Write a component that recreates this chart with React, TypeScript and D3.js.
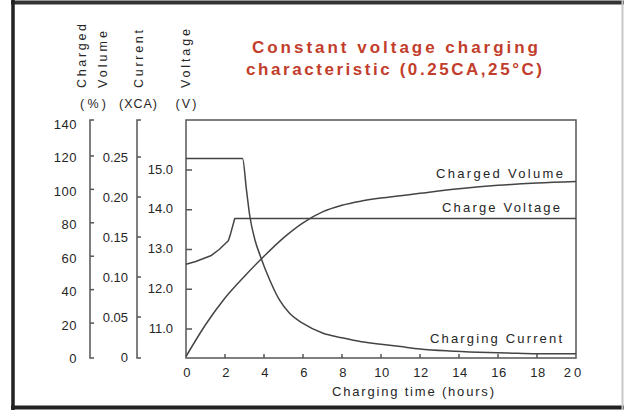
import { useEffect, useRef } from "react";
import * as d3 from "d3";

// --- axis ticks
const hourTicks = [0, 2, 4, 6, 8, 10, 12, 14, 16, 18, 20];
const volumeTicks = [0, 20, 40, 60, 80, 100, 120, 140];
const currentTicks = [0, 0.05, 0.1, 0.15, 0.2, 0.25];
const currentLabels = ["0", "0.05", "0.10", "0.15", "0.20", "0.25"];
const voltTicks = [11, 12, 13, 14, 15];
const voltLabels = ["11.0", "12.0", "13.0", "14.0", "15.0"];

// --- series
const voltageTime = [0, 0.5, 1.3, 1.7, 2.17, 2.26, 2.5, 20];
const voltageVals = [12.63, 12.7, 12.85, 13.0, 13.22, 13.35, 13.78, 13.78];

const currentTime = [0, 2.9, 3.1, 3.28, 3.54, 3.8, 4.3, 4.8, 5.3, 6, 7, 8, 9, 10, 11, 12, 13.5, 15, 16.5, 18, 20];
const currentVals = [0.248, 0.248, 0.209, 0.175, 0.146, 0.127, 0.096, 0.071, 0.055, 0.042, 0.03, 0.024, 0.019, 0.016, 0.013, 0.01, 0.0075, 0.006, 0.005, 0.004, 0.004];

const volumeTime = [0, 1, 2, 3, 4, 5, 6, 7, 8, 9, 10, 11, 12, 14, 16, 18, 20];
const volumeVals = [0, 19, 35, 48, 60, 71, 80, 86.5, 90.5, 93, 94.8, 96.2, 97.6, 100.3, 102.4, 103.8, 104.7];

export default function App() {
  const ref = useRef<SVGSVGElement>(null);

  useEffect(() => {
    const svg = d3.select(ref.current);
    svg.selectAll("*").remove();

    const font = "'Liberation Sans', Arial, sans-serif";
    const ink = "#262626";
    const lineCol = "#444";

    const x = d3.scaleLinear().domain([0, 20]).range([186, 576]);
    const yVol = d3.scaleLinear().domain([0, 140]).range([356.5, 122.5]);
    const yCur = d3.scaleLinear().domain([0, 0.25]).range([357, 157]);
    const yV = d3.scaleLinear().domain([11, 15]).range([329, 170]);
    const top = 120;
    const bottom = 358;

    svg.append("rect").attr("width", 624).attr("height", 410).attr("fill", "#fff");

    // --- outer frame
    svg.append("line").attr("x1", 11).attr("x2", 624).attr("y1", 2.5).attr("y2", 2.5)
      .attr("stroke", "#333").attr("stroke-width", 4);
    svg.append("line").attr("x1", 13).attr("x2", 13).attr("y1", 0).attr("y2", 410)
      .attr("stroke", "#222").attr("stroke-width", 3.5);
    svg.append("line").attr("x1", 11).attr("x2", 624).attr("y1", 407.5).attr("y2", 407.5)
      .attr("stroke", "#222").attr("stroke-width", 4);
    svg.append("line").attr("x1", 622.5).attr("x2", 622.5).attr("y1", 0).attr("y2", 410)
      .attr("stroke", "#c8c8c8").attr("stroke-width", 2);

    // --- title
    const title = svg.append("g").attr("font-family", font).attr("font-weight", "bold")
      .attr("font-size", 17).attr("fill", "#c23d2b").attr("text-anchor", "middle");
    title.append("text").attr("x", 395).attr("y", 53).attr("textLength", 286)
      .attr("lengthAdjust", "spacing").text("Constant voltage charging");
    title.append("text").attr("x", 394).attr("y", 75).attr("textLength", 296)
      .attr("lengthAdjust", "spacing").text("characteristic (0.25CA,25°C)");

    // --- axis headers (rotated)
    const head = svg.append("g").attr("font-family", font).attr("font-size", 12.5).attr("fill", ink);
    const vhead = (bx: number, len: number, s: string) =>
      head.append("text").attr("transform", `translate(${bx},88) rotate(-90)`)
        .attr("textLength", len).attr("lengthAdjust", "spacing").text(s);
    vhead(86, 64, "Charged");
    vhead(107, 57, "Volume");
    vhead(143, 58, "Current");
    vhead(190, 59, "Voltage");
    const units = [["(%)", 93, 26], ["(XCA)", 138, 38], ["(V)", 186, 21]] as const;
    units.forEach(([s, cx, len]) =>
      head.append("text").attr("x", cx).attr("y", 108).attr("text-anchor", "middle")
        .attr("textLength", len).attr("lengthAdjust", "spacing").text(s));

    // --- plot frame
    svg.append("rect").attr("x", x(0)).attr("y", top).attr("width", x(20) - x(0))
      .attr("height", bottom - top).attr("fill", "none").attr("stroke", "#555").attr("stroke-width", 1.5);

    const axes = svg.append("g").attr("stroke", "#555").attr("stroke-width", 1.5).attr("fill", "none");
    const labels = svg.append("g").attr("font-family", font).attr("font-size", 13).attr("fill", ink);

    // charged volume axis (bracket)
    axes.append("path").attr("d", `M94,${top}H90V${bottom}H94`);
    volumeTicks.slice(1, -1).forEach(v =>
      axes.append("line").attr("x1", 90).attr("x2", 94).attr("y1", yVol(v)).attr("y2", yVol(v)));
    volumeTicks.forEach(v =>
      labels.append("text").attr("x", 77).attr("y", yVol(v) + 2).attr("dy", "0.35em")
        .attr("text-anchor", "end").attr("letter-spacing", 0.5).text(v));

    // current axis (bracket)
    axes.append("path").attr("d", `M141,${top}H137V${bottom}H141`);
    currentTicks.slice(1).forEach(v =>
      axes.append("line").attr("x1", 137).attr("x2", 141).attr("y1", yCur(v)).attr("y2", yCur(v)));
    currentTicks.forEach((v, i) =>
      labels.append("text").attr("x", 128).attr("y", yCur(v)).attr("dy", "0.35em")
        .attr("text-anchor", "end").text(currentLabels[i]));

    // voltage axis (ticks inside plot)
    voltTicks.forEach((v, i) => {
      axes.append("line").attr("x1", x(0)).attr("x2", x(0) + 6).attr("y1", yV(v)).attr("y2", yV(v));
      labels.append("text").attr("x", 173).attr("y", yV(v) - 1).attr("dy", "0.35em")
        .attr("text-anchor", "end").text(voltLabels[i]);
    });

    // x axis
    hourTicks.slice(1, -1).forEach(h =>
      axes.append("line").attr("x1", x(h)).attr("x2", x(h)).attr("y1", bottom).attr("y2", bottom - 4));
    hourTicks.forEach(h =>
      labels.append("text").attr("x", x(h) + (h === 20 ? -2 : 1)).attr("y", 377).attr("text-anchor", "middle")
        .attr("letter-spacing", h === 20 ? 3 : 0.5).text(h));
    labels.append("text").attr("x", 413).attr("y", 396).attr("text-anchor", "middle")
      .attr("textLength", 162).attr("lengthAdjust", "spacing").text("Charging time (hours)");

    // --- curves
    const curves = svg.append("g").attr("fill", "none").attr("stroke", lineCol).attr("stroke-width", 1.5)
      .attr("stroke-linejoin", "round");
    const path = (ts: number[], vs: number[], y: d3.ScaleLinear<number, number>, curve: d3.CurveFactory) =>
      curves.append("path").attr("d",
        d3.line<number>().x((_, i) => x(ts[i])).y(v => y(v)).curve(curve)(vs));
    path(voltageTime, voltageVals, yV, d3.curveLinear);
    path(currentTime, currentVals, yCur, d3.curveMonotoneX);
    path(volumeTime, volumeVals, yVol, d3.curveMonotoneX);

    // --- series labels
    const tag = (s: string, xl: number, yb: number, len: number) =>
      labels.append("text").attr("x", xl).attr("y", yb)
        .attr("textLength", len).attr("lengthAdjust", "spacing").text(s);
    tag("Charged Volume", 436, 178, 127);
    tag("Charge Voltage", 442, 212, 118);
    tag("Charging Current", 430, 343, 132);
  }, []);

  return (
    <svg
      ref={ref}
      width={624}
      height={410}
      style={{ position: "absolute", left: 0, top: 0 }}
    />
  );
}
